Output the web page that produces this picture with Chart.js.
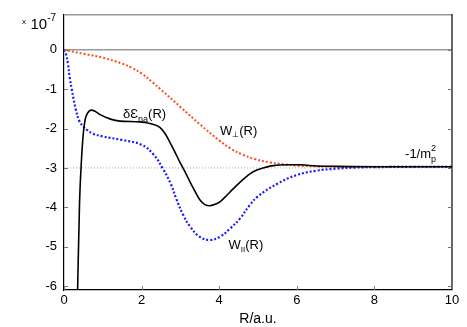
<!DOCTYPE html>
<html><head><meta charset="utf-8">
<script src="https://cdn.jsdelivr.net/npm/chart.js@4/dist/chart.umd.min.js"></script>
<style>html,body{margin:0;padding:0;background:#fff;}canvas{display:block;}</style>
</head><body>
<canvas id="c" width="467" height="327"></canvas>
<script>
// ---- data (values in units of 1e-7) ----
const xTickValues = [0, 2, 4, 6, 8, 10];
const yTickValues = [0, -1, -2, -3, -4, -5, -6];
const asymptote = -3;

const perpR = [0, 0.5, 1.0, 1.5, 1.75, 2.0, 2.3, 2.5, 3.0, 3.5, 4.0, 4.3, 4.6, 4.9, 5.3, 5.7, 6.0, 6.5, 7, 8, 9, 10];
const perpV = [0, -0.1, -0.2, -0.35, -0.46, -0.6, -0.84, -1.01, -1.45, -1.89, -2.3, -2.51, -2.66, -2.77, -2.86, -2.91, -2.94, -2.96, -2.97, -2.97, -2.97, -2.97];

const parR = [0, 0.05, 0.1, 0.15, 0.2, 0.3, 0.4, 0.5, 0.6, 0.75, 1.0, 1.5, 2.0, 2.3, 2.55, 2.75, 2.9, 3.07, 3.25, 3.5, 3.76, 4.02, 4.28, 4.54, 4.79, 5.0, 5.5, 6.0, 6.5, 7.0, 7.5, 8, 9, 10];
const parV = [0, -0.1, -0.35, -0.72, -1.0, -1.5, -1.82, -1.95, -2.04, -2.13, -2.2, -2.29, -2.41, -2.65, -3.02, -3.4, -3.8, -4.19, -4.49, -4.75, -4.83, -4.75, -4.54, -4.28, -3.94, -3.72, -3.4, -3.18, -3.07, -3.02, -2.99, -2.98, -2.97, -2.97];

const naR = [0.3, 0.35, 0.4, 0.45, 0.5, 0.55, 0.6, 0.7, 0.8, 0.92, 1.2, 1.44, 1.96, 2.29, 2.47, 2.6, 2.73, 2.86, 2.99, 3.12, 3.25, 3.38, 3.5, 3.63, 3.76, 3.88, 4.02, 4.15, 4.28, 4.54, 4.79, 4.97, 5.13, 5.4, 5.8, 6.1, 6.5, 7, 8, 10];
const naV = [-8.5, -6.13, -3.9, -2.8, -2.1, -1.75, -1.62, -1.53, -1.56, -1.64, -1.76, -1.81, -1.83, -1.89, -1.97, -2.12, -2.35, -2.6, -2.86, -3.1, -3.36, -3.6, -3.81, -3.93, -3.96, -3.93, -3.86, -3.74, -3.61, -3.36, -3.15, -3.05, -3.0, -2.94, -2.92, -2.92, -2.95, -2.96, -2.97, -2.97];

const pts = (xs, ys) => xs.map((x, i) => ({x: x, y: ys[i]}));

const FONT = "'Liberation Sans', Arial, sans-serif";

function rich(ctx, x, y, parts) {
  ctx.textBaseline = 'alphabetic';
  ctx.textAlign = 'left';
  let cx = x;
  for (const p of parts) {
    ctx.font = p.size + 'px ' + FONT;
    ctx.fillText(p.t, cx, y + (p.dy || 0));
    if (!p.stay) cx += ctx.measureText(p.t).width + (p.gap || 0);
  }
}

const decor = {
  id: 'decor',
  beforeDatasetsDraw(chart) {
    const {ctx, chartArea: a} = chart;
    ctx.save();
    ctx.lineWidth = 1.5;
    ctx.strokeStyle = '#999';
    ctx.beginPath(); ctx.moveTo(a.left, a.top); ctx.lineTo(a.right, a.top); ctx.stroke();
    ctx.restore();
  },
  afterDraw(chart) {
    const {ctx, chartArea: a, scales: {x, y}} = chart;
    ctx.save();
    ctx.strokeStyle = '#000';
    ctx.lineWidth = 1.2;
    ctx.beginPath(); ctx.moveTo(a.right, a.top - 0.75); ctx.lineTo(a.right, a.bottom); ctx.stroke();
    ctx.strokeStyle = '#777';
    ctx.lineWidth = 1;
    ctx.beginPath();
    for (const v of yTickValues) {
      const py = Math.round(y.getPixelForValue(v)) + 0.5;
      ctx.moveTo(a.left, py); ctx.lineTo(a.left + 4, py);
      ctx.moveTo(a.right, py); ctx.lineTo(a.right - 4, py);
    }
    for (const v of xTickValues) {
      const px = Math.round(x.getPixelForValue(v)) + 0.5;
      ctx.moveTo(px, a.bottom); ctx.lineTo(px, a.bottom - 4);
    }
    ctx.stroke();

    ctx.fillStyle = '#000';
    rich(ctx, a.left - 42, a.top + 9, [{t: 'x', size: 8}]);
    rich(ctx, a.left - 33.5, a.top + 14, [{t: '10', size: 15}, {t: '-7', size: 10, dy: -8}]);

    const P = (r, v) => [x.getPixelForValue(r), y.getPixelForValue(v)];
    let [lx, ly] = P(1.52, -1.74);
    rich(ctx, lx, ly, [{t: 'δ', size: 13}, {t: 'Ɛ', size: 13}, {t: 'na', size: 9, dy: 4}, {t: '(R)', size: 13}]);
    [lx, ly] = P(4.02, -2.17);
    rich(ctx, lx, ly, [{t: 'W', size: 13}, {t: '⊥', size: 8, dy: 2}, {t: '(R)', size: 13}]);
    [lx, ly] = P(4.24, -5.06);
    rich(ctx, lx, ly, [{t: 'W', size: 13}, {t: 'II', size: 8, dy: 3}, {t: '(R)', size: 13}]);
    [lx, ly] = P(8.79, -2.74);
    rich(ctx, lx, ly, [{t: '-1/m', size: 13}, {t: '2', size: 9, dy: -7, stay: true}, {t: 'p', size: 9, dy: 4}]);
    ctx.restore();
  }
};

new Chart(document.getElementById('c'), {
  type: 'line',
  data: {
    datasets: [
      {data: pts(naR, naV), borderColor: '#000', borderWidth: 1.6, cubicInterpolationMode: 'monotone', order: 0},
      {data: pts(parR, parV), borderColor: '#1a1aff', borderWidth: 2.2, borderDash: [2, 2], tension: 0.4, order: 1},
      {data: pts(perpR, perpV), borderColor: '#ff4d1a', borderWidth: 2, borderDash: [2, 2], tension: 0.4, order: 2},
      {data: pts([0, 10], [asymptote, asymptote]), borderColor: '#aaa', borderWidth: 1, borderDash: [1, 2], order: 3},
      {data: pts([0, 10], [0, 0]), borderColor: '#999', borderWidth: 1.5, order: 4}
    ]
  },
  options: {
    responsive: false,
    animation: false,
    devicePixelRatio: 1,
    elements: {point: {radius: 0}, line: {fill: false}},
    layout: {padding: {top: 11, right: 15, left: 0, bottom: 0}},
    plugins: {legend: {display: false}, tooltip: {enabled: false}},
    scales: {
      x: {
        type: 'linear', min: 0, max: 10,
        afterBuildTicks: s => { s.ticks = xTickValues.map(v => ({value: v})); },
        afterFit: s => { s.height = 37; },
        grid: {display: false, drawTicks: false},
        border: {display: true, color: '#000', width: 1.2},
        ticks: {padding: 3, color: '#000', font: {family: FONT, size: 13}, maxRotation: 0, autoSkip: false,
                callback: v => String(v)},
        title: {display: true, text: 'R/a.u.', color: '#000', font: {family: FONT, size: 14}, padding: {top: 0, bottom: -1}}
      },
      y: {
        type: 'linear', min: -6.1, max: 0.89,
        afterBuildTicks: s => { s.ticks = yTickValues.map(v => ({value: v})); },
        afterFit: s => { s.width = 64; },
        grid: {display: false, drawTicks: false},
        border: {display: true, color: '#000', width: 1.2},
        ticks: {padding: 7, color: '#000', font: {family: FONT, size: 13}, autoSkip: false,
                callback: v => String(v)}
      }
    }
  },
  plugins: [decor]
});
</script>
</body></html>
